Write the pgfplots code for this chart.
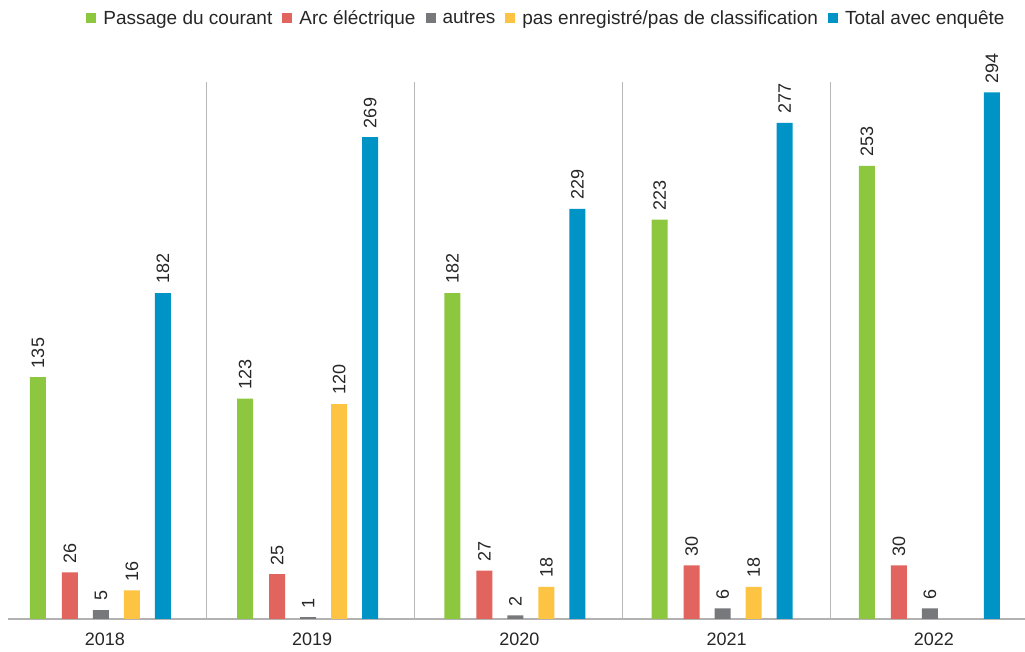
\documentclass[border=0pt]{standalone}
\usepackage{pgfplots}
\pgfplotsset{compat=1.18}
\usepackage{fontspec}
\setmainfont{Liberation Sans}
\definecolor{cgreen}{RGB}{141,198,63}
\definecolor{cred}{RGB}{226,100,94}
\definecolor{cgray}{RGB}{119,120,124}
\definecolor{cyellow}{RGB}{253,195,66}
\definecolor{cblue}{RGB}{0,147,198}
\begin{document}
\begin{tikzpicture}
\useasboundingbox (-8pt,-33pt) rectangle (1017pt,619pt);
\begin{axis}[
  at={(0,0)}, anchor=south west,
  scale only axis, width=1017pt, height=537.3pt,
  xmin=-0.468, xmax=4.44, ymin=0, ymax=300,
  axis x line*=bottom, axis y line=none,
  x axis line style={draw=black!30, line width=1.3pt, -},
  xtick={0,1,2,3,4}, xticklabels={2018,2019,2020,2021,2022},
  major tick length=0pt,
  xticklabel style={font=\fontsize{18}{20}\selectfont, text=black!85, yshift=-10pt},
  extra x ticks={0.488,1.493,2.498,3.502}, extra x tick labels={},
  extra x tick style={grid=major, major grid style={draw=black!28, line width=1pt}},
  ytick=\empty,
  ybar, bar width=16pt,
  /pgf/number format/assume math mode=true,
  nodes near coords,
  every node near coord/.append style={rotate=90, anchor=west, inner xsep=9pt, inner ysep=0pt, font=\fontsize{18}{20}\selectfont, text=black!85},
  legend columns=-1,
  legend image code/.code={\fill[#1] (0pt,-5pt) rectangle (10pt,5pt);},
  legend style={at={(0.985,1.1186)}, anchor=east, draw=none, fill=none,
    font=\fontsize{19}{21}\selectfont, text=black!85,
    /tikz/every odd column/.append style={column sep=5pt},
    /tikz/every even column/.append style={column sep=8pt}},
]
\addplot[fill=cgreen, draw=none, bar shift=-67pt] coordinates {(0,135) (1,123) (2,182) (3,223) (4,253)};
\addlegendentry{Passage du courant}
\addplot[fill=cred, draw=none, bar shift=-35pt] coordinates {(0,26) (1,25) (2,27) (3,30) (4,30)};
\addlegendentry{Arc éléctrique}
\addplot[fill=cgray, draw=none, bar shift=-4pt] coordinates {(0,5) (1,1) (2,2) (3,6) (4,6)};
\addlegendentry{autres}
\addplot[fill=cyellow, draw=none, bar shift=27pt] coordinates {(0,16) (1,120) (2,18) (3,18)};
\addlegendentry{pas enregistré/pas de classification}
\addplot[fill=cblue, draw=none, bar shift=58pt] coordinates {(0,182) (1,269) (2,229) (3,277) (4,294)};
\addlegendentry{Total avec enquête}
\end{axis}
\end{tikzpicture}
\end{document}
